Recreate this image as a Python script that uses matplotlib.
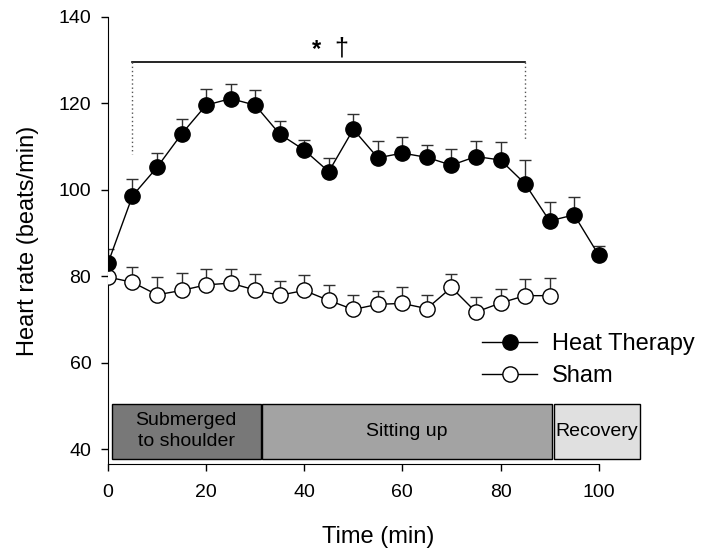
import matplotlib
matplotlib.use("Agg")
import matplotlib.pyplot as plt
from matplotlib.patches import Rectangle
from matplotlib.lines import Line2D
import numpy as np

plt.rcParams['font.family'] = ['Liberation Sans', 'DejaVu Sans']

# Data
heat_time = [0, 5, 10, 15, 20, 25, 30, 35, 40, 45, 50, 55, 60, 65, 70, 75, 80, 85, 90, 95, 100]
heat_hr = [83.0, 98.6, 105.2, 112.9, 119.6, 121.1, 119.6, 112.9, 109.2, 104.2, 114.0,
           107.4, 108.5, 107.5, 105.7, 107.7, 106.9, 101.4, 92.8, 94.2, 84.9]
heat_err = [3.4, 3.9, 3.3, 3.4, 3.7, 3.4, 3.4, 3.1, 2.4, 3.2, 3.6,
            4.0, 3.8, 2.8, 3.8, 3.7, 4.2, 5.5, 4.3, 4.1, 2.2]

sham_time = [0, 5, 10, 15, 20, 25, 30, 35, 40, 45, 50, 55, 60, 65, 70, 75, 80, 85, 90]
sham_hr = [79.8, 78.6, 75.7, 76.7, 78.0, 78.4, 76.8, 75.6, 76.7, 74.4, 72.3,
           73.5, 73.7, 72.5, 77.4, 71.7, 73.8, 75.5, 75.5]
sham_err = [4.4, 3.5, 4.1, 4.0, 3.7, 3.3, 3.7, 3.2, 3.6, 3.5, 3.4,
            3.0, 3.8, 3.2, 3.2, 3.5, 3.3, 3.9, 4.2]

phase_labels = ["Submerged\nto shoulder", "Sitting up", "Recovery"]
phase_start = [0.8, 31.4, 90.8]
phase_end = [31.1, 90.4, 108.5]
phase_colors = ["#787878", "#a3a3a3", "#e0e0e0"]

sig_start, sig_end = 5, 85
sig_drop_start, sig_drop_end = 108.3, 111.2

fig = plt.figure(figsize=(7.01, 5.48), dpi=100)
ax = fig.add_axes([0.154, 0.153, 0.77, 0.816])

ax.set_xlim(0, 110)
ax.set_ylim(36.5, 140)

# error bars (upper only)
ax.errorbar(heat_time, heat_hr, yerr=[np.zeros(len(heat_err)), heat_err], fmt='none',
            ecolor='#303030', elinewidth=1.0, capsize=4, capthick=1.0, zorder=2)
ax.errorbar(sham_time, sham_hr, yerr=[np.zeros(len(sham_err)), sham_err], fmt='none',
            ecolor='#303030', elinewidth=1.0, capsize=4, capthick=1.0, zorder=2)

ax.plot(heat_time, heat_hr, color='black', lw=1.0, marker='o', markersize=11,
        markerfacecolor='black', markeredgecolor='black', markeredgewidth=1.0, zorder=4)
ax.plot(sham_time, sham_hr, color='black', lw=1.0, marker='o', markersize=11,
        markerfacecolor='white', markeredgecolor='black', markeredgewidth=1.0, zorder=3)

# phase boxes
box_bottom, box_top = 37.8, 50.5
for lab, s, e, c in zip(phase_labels, phase_start, phase_end, phase_colors):
    ax.add_patch(Rectangle((s, box_bottom), e - s, box_top - box_bottom, facecolor=c,
                           edgecolor='black', lw=1.0, clip_on=False, zorder=1))
    ax.text((s + e) / 2, (box_bottom + box_top) / 2, lab, ha='center', va='center',
            fontsize=14, linespacing=1.35, zorder=5)

# significance bracket
sig_y = 129.6
ax.plot([sig_start, sig_end], [sig_y, sig_y], color='black', lw=1.2)
ax.plot([sig_start, sig_start], [sig_y, sig_drop_start], color='#555555', lw=1.0, ls=(0, (1, 2)))
ax.plot([sig_end, sig_end], [sig_y, sig_drop_end], color='#555555', lw=1.0, ls=(0, (1, 2)))
ax.text(42.6, 131.0, "*", ha='center', va='baseline', fontsize=17, fontweight='bold')
ax.text(47.6, 131.0, "\u2020", ha='center', va='baseline', fontsize=18)

# axes styling
ax.spines['top'].set_visible(False)
ax.spines['right'].set_visible(False)
ax.spines['bottom'].set_bounds(0, 100)
ax.set_xticks([0, 20, 40, 60, 80, 100])
ax.set_yticks([40, 60, 80, 100, 120, 140])
ax.tick_params(axis='both', direction='out', length=5, width=1, labelsize=14)
ax.tick_params(axis='x', pad=9)
ax.tick_params(axis='y', pad=7)
ax.set_xlabel("Time (min)", fontsize=17, labelpad=18)
ax.set_ylabel("Heart rate (beats/min)", fontsize=17, labelpad=14)

handles = [Line2D([], [], color='black', lw=1.0, marker='o', markersize=11,
                  markerfacecolor='black', markeredgecolor='black'),
           Line2D([], [], color='black', lw=1.0, marker='o', markersize=11,
                  markerfacecolor='white', markeredgecolor='black')]
ax.legend(handles, ["Heat Therapy", "Sham"], loc='upper left',
          bbox_to_anchor=(482 / 701, 1 - 333 / 548), bbox_transform=fig.transFigure,
          frameon=False, fontsize=17, handlelength=2.35, handletextpad=0.62,
          labelspacing=0.42, borderpad=0.0, borderaxespad=0.0)

fig.savefig("out.png", dpi=100)
